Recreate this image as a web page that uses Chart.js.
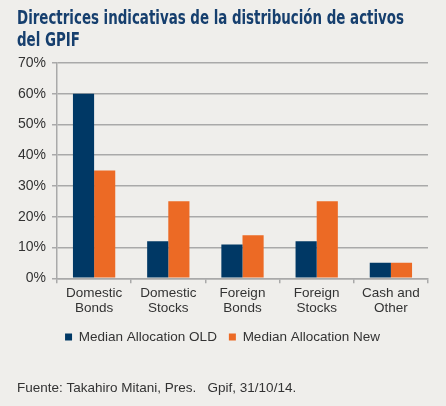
<!DOCTYPE html>
<html>
<head>
<meta charset="utf-8">
<script src="https://cdn.jsdelivr.net/npm/chart.js@4/dist/chart.umd.min.js"></script>
<style>
  html, body { margin: 0; padding: 0; background: #efeeeb; }
  #wrap { width: 446px; height: 406px; position: relative; }
</style>
</head>
<body>
<div id="wrap"><canvas id="gpifChart"></canvas></div>
<script>
const categories = [['Domestic', 'Bonds'], ['Domestic', 'Stocks'], ['Foreign', 'Bonds'], ['Foreign', 'Stocks'], ['Cash and', 'Other']];
const oldAllocation = [60, 12, 11, 12, 5];
const newAllocation = [35, 25, 14, 25, 5];
const titleLines = ['Directrices indicativas de la distribución de activos', 'del GPIF'];
const sourceNote = 'Fuente: Takahiro Mitani, Pres.   Gpif, 31/10/14.';

const titleFont = "bold 19px 'DejaVu Sans Condensed', 'Roboto Condensed', sans-serif";

// the reference title is a narrow face; draw it compressed over the (invisible) built-in title block
const narrowTitle = {
    id: 'narrowTitle',
    afterDraw(chart) {
        const tb = chart.titleBlock;
        if (!tb) return;
        const c = chart.ctx;
        c.save();
        c.font = titleFont;
        const sx = Math.min(1, 387 / c.measureText(titleLines[0]).width);
        c.fillStyle = '#163f6e';
        c.textBaseline = 'middle';
        c.translate(tb.left, 0);
        c.scale(sx, 1);
        titleLines.forEach((line, i) => {
            c.fillText(line, 0, tb.top + 4 + 22 * (i + 0.5));
        });
        c.restore();
    },
};

const ctx = document.getElementById('gpifChart');
new Chart(ctx.getContext('2d'), {
    type: 'bar',
    data: {
        labels: categories,
        datasets: [{
            label: 'Median Allocation OLD',
            data: oldAllocation,
            backgroundColor: '#003865',
            categoryPercentage: 0.57,
            barPercentage: 1,
        }, {
            label: 'Median Allocation New',
            data: newAllocation,
            backgroundColor: '#ec6a25',
            categoryPercentage: 0.57,
            barPercentage: 1,
        }],
    },
    options: {
        responsive: true,
        maintainAspectRatio: false,
        animation: false,
        layout: {
            padding: { left: 17, right: 18, top: 4, bottom: 6 },
        },
        plugins: {
            tooltip: { enabled: false },
            title: {
                display: true,
                text: titleLines,
                align: 'start',
                color: 'rgba(0,0,0,0)',
                font: { family: "'DejaVu Sans Condensed', 'Roboto Condensed', sans-serif", size: 18, weight: 'bold', lineHeight: 1.22 },
                padding: { top: 3, bottom: 12 },
            },
            legend: {
                position: 'bottom',
                labels: {
                    color: '#333333',
                    font: { family: 'Liberation Sans', size: 13.5 },
                    boxWidth: 7,
                    boxHeight: 7,
                    padding: 12,
                },
            },
            subtitle: {
                display: true,
                position: 'bottom',
                align: 'start',
                text: sourceNote,
                color: '#333333',
                font: { family: 'Liberation Sans', size: 13.5 },
                padding: { top: 26, bottom: 4 },
            },
        },
        scales: {
            y: {
                min: 0,
                max: 70,
                afterFit: (scale) => { scale.width = 40; },
                ticks: {
                    stepSize: 10,
                    color: '#333333',
                    font: { family: 'Liberation Sans', size: 14 },
                    padding: 6,
                    callback: (v) => v + '%',
                },
                grid: { color: '#a9a9a9', lineWidth: 1.5, tickLength: 5 },
                border: { color: '#a9a9a9', width: 1.5 },
            },
            x: {
                ticks: {
                    color: '#333333',
                    font: { family: 'Liberation Sans', size: 13.5, lineHeight: 1.15 },
                    padding: 2,
                    maxRotation: 0,
                },
                grid: { offset: true, drawOnChartArea: false, color: '#a9a9a9', lineWidth: 1.5, tickLength: 5 },
                border: { color: '#a9a9a9', width: 1.5 },
            },
        },
    },
    plugins: [narrowTitle],
});
</script>
</body>
</html>
